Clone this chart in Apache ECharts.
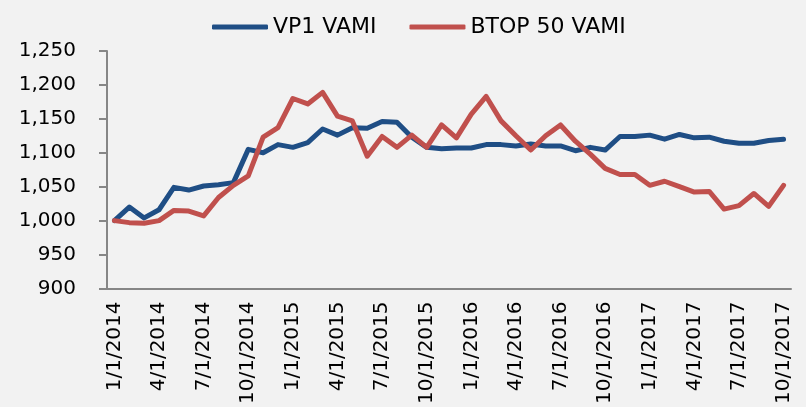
<!DOCTYPE html>
<html>
<head>
<meta charset="utf-8">
<script src="https://cdn.jsdelivr.net/npm/echarts@6/dist/echarts.min.js"></script>
<style>
html,body{margin:0;padding:0;background:#f2f2f2;}
#chart{width:806px;height:407px;}
</style>
</head>
<body>
<div id="chart"></div>
<script>
const categories = [
  "1/1/2014","2/1/2014","3/1/2014","4/1/2014","5/1/2014","6/1/2014","7/1/2014","8/1/2014","9/1/2014","10/1/2014","11/1/2014","12/1/2014",
  "1/1/2015","2/1/2015","3/1/2015","4/1/2015","5/1/2015","6/1/2015","7/1/2015","8/1/2015","9/1/2015","10/1/2015","11/1/2015","12/1/2015",
  "1/1/2016","2/1/2016","3/1/2016","4/1/2016","5/1/2016","6/1/2016","7/1/2016","8/1/2016","9/1/2016","10/1/2016","11/1/2016","12/1/2016",
  "1/1/2017","2/1/2017","3/1/2017","4/1/2017","5/1/2017","6/1/2017","7/1/2017","8/1/2017","9/1/2017","10/1/2017"
];
const vp1Vami = [1000,1020,1004,1016,1049,1045,1051,1053,1056,1105,1100,1112,1108,1115,1135,1126,1137,1136,1146,1145,1123,1108,1106,1107,1107,1112,1112,1110,1113,1110,1110,1103,1108,1104,1124,1124,1126,1120,1127,1122,1123,1117,1114,1114,1118,1120];
const btop50Vami = [1000,997,996,1000,1015,1014,1007,1034,1052,1066,1123,1137,1180,1172,1189,1154,1147,1095,1124,1108,1126,1108,1141,1122,1157,1183,1147,1125,1104,1125,1141,1117,1098,1077,1068,1068,1052,1058,1050,1042,1043,1017,1022,1040,1021,1052];
const seriesNames = ["VP1 VAMI", "BTOP 50 VAMI"];
const yMin = 900, yMax = 1250, yStep = 50;

const chart = echarts.init(document.getElementById('chart'));
const font = 'DejaVu Sans';
chart.setOption({
  animation: false,
  backgroundColor: '#f2f2f2',
  legend: {
    left: 207, top: 11,
    itemWidth: 56, itemHeight: 5, itemGap: 33,
    icon: 'roundRect',
    textStyle: {fontFamily: font, fontSize: 22, color: '#000'},
    data: seriesNames
  },
  grid: {left: 107, right: 15, top: 51, bottom: 118},
  xAxis: {
    type: 'category',
    data: categories,
    boundaryGap: true,
    axisLine: {lineStyle: {color: '#868686', width: 2}},
    axisTick: {interval: 2, length: 6, lineStyle: {color: '#868686', width: 2}},
    axisLabel: {interval: 2, rotate: 90, margin: 13, fontFamily: font, fontSize: 20, color: '#000'}
  },
  yAxis: {
    type: 'value',
    min: yMin, max: yMax, interval: yStep,
    splitLine: {show: false},
    axisLine: {show: true, lineStyle: {color: '#868686', width: 2}},
    axisTick: {show: true, length: 8, lineStyle: {color: '#868686', width: 2}},
    axisLabel: {margin: 31, fontFamily: font, fontSize: 20, color: '#000',
      formatter: v => v.toLocaleString('en-US')}
  },
  series: [
    {name: seriesNames[0], type: 'line', data: vp1Vami, showSymbol: false, symbol: 'none',
     lineStyle: {width: 5, color: '#1f4e85', join: 'round', cap: 'round'}, itemStyle: {color: '#1f4e85'}},
    {name: seriesNames[1], type: 'line', data: btop50Vami, showSymbol: false, symbol: 'none',
     lineStyle: {width: 5, color: '#c0504d', join: 'round', cap: 'round'}, itemStyle: {color: '#c0504d'}}
  ]
});
</script>
</body>
</html>
